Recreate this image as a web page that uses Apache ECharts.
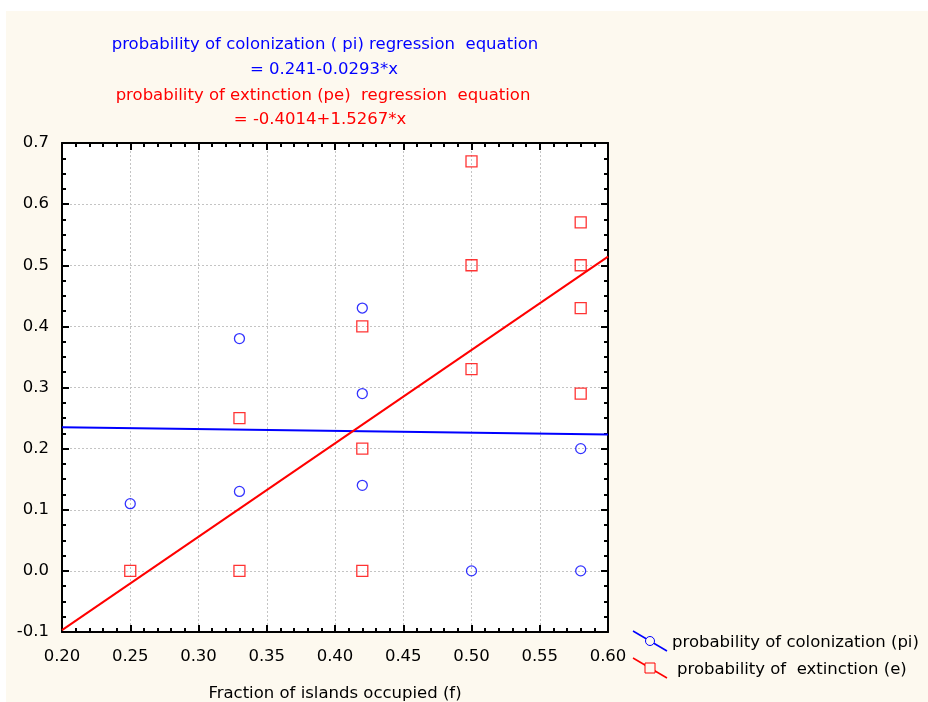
<!DOCTYPE html>
<html>
<head>
<meta charset="utf-8">
<script src="https://cdn.jsdelivr.net/npm/echarts@6/dist/echarts.min.js"></script>
<style>
html,body{margin:0;padding:0;background:#ffffff;}
#c{position:absolute;left:0;top:0;width:928px;height:702px;}
</style>
</head>
<body>
<div id="c"></div>
<script>
// ---- data ----
var colonizationX = [0.25, 0.33, 0.33, 0.42, 0.42, 0.42, 0.50, 0.58, 0.58];
var colonizationY = [0.11, 0.38, 0.13, 0.43, 0.29, 0.14, 0.00, 0.20, 0.00];
var extinctionX = [0.25, 0.33, 0.33, 0.42, 0.42, 0.42, 0.50, 0.50, 0.50, 0.58, 0.58, 0.58, 0.58];
var extinctionY = [0.00, 0.25, 0.00, 0.40, 0.20, 0.00, 0.67, 0.50, 0.33, 0.57, 0.50, 0.43, 0.29];
var colonizationFitX = [0.20, 0.60];
var colonizationFitY = [0.235, 0.223];
var extinctionFitX = [0.20, 0.60];
var extinctionFitY = [-0.097, 0.514];
var titleLines = [
  'probability of colonization ( pi) regression  equation',
  '= 0.241-0.0293*x',
  'probability of extinction (pe)  regression  equation',
  '= -0.4014+1.5267*x'
];
var legendNames = ['probability of colonization (pi)', 'probability of  extinction (e)'];
var xAxisTitle = 'Fraction of islands occupied (f)';

function pairs(xs, ys){ return xs.map(function(x,i){ return [x, ys[i]]; }); }

var FONT = '"DejaVu Sans", sans-serif';
var FS = 16.5;
var BLUE = '#0000ff', RED = '#ff0000';

var chart = echarts.init(document.getElementById('c'), null, {renderer:'canvas'});

var gridLine = {show:true, lineStyle:{color:'#c4c4c4', type:[2,2], width:1}};

function ts(c){ return {color:c, fontSize:FS, fontWeight:'normal', fontFamily:FONT}; }

var option = {
  backgroundColor: '#ffffff',
  animation: false,
  title: [
    {text: titleLines[0], left: 320, top: 31, textAlign:'center', textStyle:ts(BLUE)},
    {text: titleLines[1], left: 319, top: 56, textAlign:'center', textStyle:ts(BLUE)},
    {text: titleLines[2], left: 318, top: 82, textAlign:'center', textStyle:ts(RED)},
    {text: titleLines[3], left: 315, top: 106, textAlign:'center', textStyle:ts(RED)}
  ],
  graphic: [
    {type:'rect', z:-10, silent:true, shape:{x:6, y:11, width:922, height:691}, style:{fill:'#fdf9ef'}},
    {type:'rect', z:-9, silent:true, shape:{x:62, y:143, width:546, height:489}, style:{fill:'#ffffff'}},
    // legend
    {type:'line', shape:{x1:633, y1:631, x2:667, y2:651}, style:{stroke:BLUE, lineWidth:1.5}},
    {type:'circle', shape:{cx:650, cy:641, r:4.5}, style:{fill:'#fdf9ef', stroke:BLUE, lineWidth:1}},
    {type:'text', left:672, top:634, style:{text:legendNames[0], fill:'#000', fontSize:FS, fontFamily:FONT}},
    {type:'line', shape:{x1:633, y1:658, x2:667, y2:678}, style:{stroke:RED, lineWidth:1.5}},
    {type:'rect', shape:{x:645, y:663, width:10, height:10}, style:{fill:'#fdf9ef', stroke:RED, lineWidth:1}},
    {type:'text', left:677, top:661, style:{text:legendNames[1], fill:'#000', fontSize:FS, fontFamily:FONT}}
  ],
  grid: {left:62, right:320, top:143, bottom:70, containLabel:false, outerBoundsMode:'none'},
  xAxis: [
    {type:'value', min:0.2, max:0.6, interval:0.05, position:'bottom',
     axisLine:{show:true, onZero:false, lineStyle:{color:'#000', width:2}},
     axisTick:{show:true, inside:true, length:7, lineStyle:{color:'#000', width:2}},
     minorTick:{show:true, splitNumber:5, length:4, lineStyle:{color:'#000', width:2}},
     axisLabel:{color:'#000', fontSize:FS, fontFamily:FONT, margin:16, formatter:function(v){return v.toFixed(2);}},
     splitLine:gridLine,
     name:xAxisTitle, nameLocation:'middle', nameGap:53,
     nameTextStyle:{color:'#000', fontSize:FS, fontFamily:FONT}},
    {type:'value', min:0.2, max:0.6, interval:0.05, position:'top',
     axisLine:{show:true, onZero:false, lineStyle:{color:'#000', width:2}},
     axisTick:{show:true, inside:true, length:7, lineStyle:{color:'#000', width:2}},
     minorTick:{show:true, splitNumber:5, length:4, lineStyle:{color:'#000', width:2}},
     axisLabel:{show:false}, splitLine:{show:false}}
  ],
  yAxis: [
    {type:'value', min:-0.1, max:0.7, interval:0.1, position:'left',
     axisLine:{show:true, onZero:false, lineStyle:{color:'#000', width:2}},
     axisTick:{show:true, inside:true, length:7, lineStyle:{color:'#000', width:2}},
     minorTick:{show:true, splitNumber:4, length:4, lineStyle:{color:'#000', width:2}},
     axisLabel:{color:'#000', fontSize:FS, fontFamily:FONT, margin:13, formatter:function(v){return v.toFixed(1);}},
     splitLine:gridLine},
    {type:'value', min:-0.1, max:0.7, interval:0.1, position:'right',
     axisLine:{show:true, onZero:false, lineStyle:{color:'#000', width:2}},
     axisTick:{show:true, inside:true, length:7, lineStyle:{color:'#000', width:2}},
     minorTick:{show:true, splitNumber:4, length:4, lineStyle:{color:'#000', width:2}},
     axisLabel:{show:false}, splitLine:{show:false}}
  ],
  series: [
    {type:'line', name:'colonization fit', data:pairs(colonizationFitX, colonizationFitY), showSymbol:false, symbol:'none',
     lineStyle:{color:BLUE, width:2}, z:3, clip:true},
    {type:'line', name:'extinction fit', data:pairs(extinctionFitX, extinctionFitY), showSymbol:false, symbol:'none',
     lineStyle:{color:RED, width:2}, z:3, clip:true},
    {type:'scatter', name:legendNames[0], data:pairs(colonizationX, colonizationY), symbol:'circle', symbolSize:10,
     itemStyle:{color:'rgba(255,255,255,0)', borderColor:BLUE, borderWidth:1.3}, z:4},
    {type:'scatter', name:legendNames[1], data:pairs(extinctionX, extinctionY), symbol:'rect', symbolSize:11,
     itemStyle:{color:'rgba(255,255,255,0)', borderColor:RED, borderWidth:1.3}, z:4}
  ]
};
chart.setOption(option);
</script>
</body>
</html>
